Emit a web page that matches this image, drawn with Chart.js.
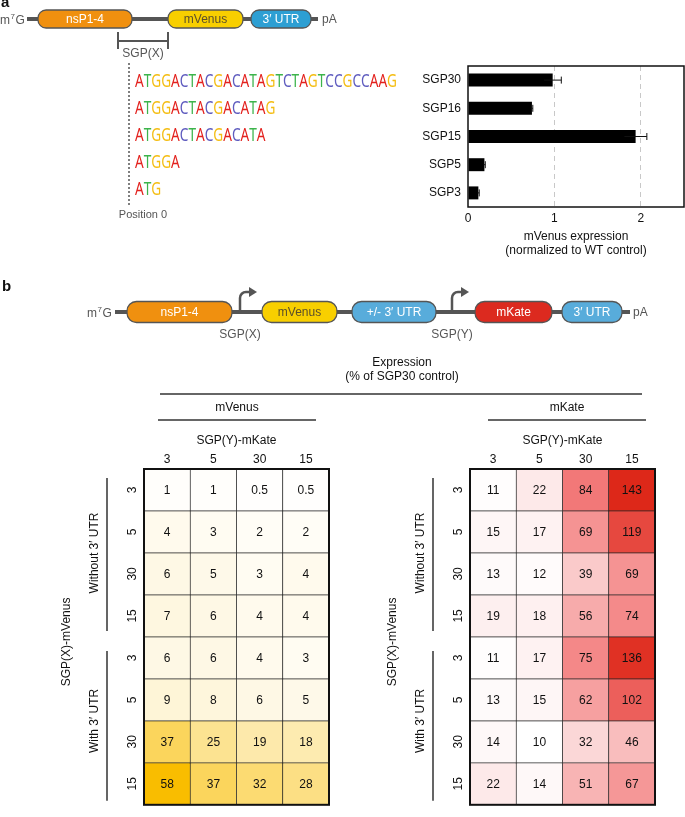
<!DOCTYPE html>
<html>
<head>
<meta charset="utf-8">
<script src="https://cdn.jsdelivr.net/npm/chart.js@4.4.1/dist/chart.umd.min.js"></script>
<style>
  html, body { margin: 0; padding: 0; background: #fff; }
  #page { position: relative; width: 685px; height: 817px; overflow: hidden; }
  #page canvas { position: absolute; left: 0; top: 0; }
</style>
</head>
<body>
<div id="page">
  <canvas id="barChart" width="685" height="817"></canvas>
  <canvas id="venusMap" width="685" height="817"></canvas>
  <canvas id="kateMap" width="685" height="817"></canvas>
</div>
<script>
const FONT = '"Liberation Sans", Arial, Helvetica, sans-serif';
Chart.defaults.font.family = FONT;
Chart.defaults.font.size = 12;
Chart.defaults.color = '#111';

// panel a - bar chart
const SGP_LABELS = ['SGP30', 'SGP16', 'SGP15', 'SGP5', 'SGP3'];
const MVENUS_EXPR = [0.98, 0.74, 1.94, 0.19, 0.12];
const MVENUS_ERR = [0.10, 0.01, 0.13, 0.01, 0.01];
const X_TICKS = [0, 1, 2];

// panel a - sequences
const SEQUENCES = [
  'ATGGACTACGACATAGTCTAGTCCGCCAAG',
  'ATGGACTACGACATAG',
  'ATGGACTACGACATA',
  'ATGGA',
  'ATG'
];
const BASE_COLORS = { A: '#e3221e', T: '#3cb44b', G: '#f4bd12', C: '#5f5cbf' };

// panel b - heatmaps
const COL_LABELS = ['3', '5', '30', '15'];
const ROW_LABELS = ['3', '5', '30', '15', '3', '5', '30', '15'];
const GROUP_LABELS = ['Without 3\u2032 UTR', 'With 3\u2032 UTR'];
const MVENUS_CELLS = [
  [1, 1, 0.5, 0.5],
  [4, 3, 2, 2],
  [6, 5, 3, 4],
  [7, 6, 4, 4],
  [6, 6, 4, 3],
  [9, 8, 6, 5],
  [37, 25, 19, 18],
  [58, 37, 32, 28]
];
const MKATE_CELLS = [
  [11, 22, 84, 143],
  [15, 17, 69, 119],
  [13, 12, 39, 69],
  [19, 18, 56, 74],
  [11, 17, 75, 136],
  [13, 15, 62, 102],
  [14, 10, 32, 46],
  [22, 14, 51, 67]
];

// colour ramps
const VENUS_RAMP = [[0, [255, 255, 255]], [58, [249, 189, 0]]];
const KATE_RAMP = [[10, [255, 255, 255]], [85, [242, 118, 118]], [143, [221, 40, 25]]];

function rampColor(stops, v) {
  const rgb = c => `rgb(${c.map(Math.round).join(',')})`;
  if (v <= stops[0][0]) return rgb(stops[0][1]);
  for (let i = 1; i < stops.length; i++) {
    if (v <= stops[i][0]) {
      const t = (v - stops[i - 1][0]) / (stops[i][0] - stops[i - 1][0]);
      return rgb(stops[i - 1][1].map((c, k) => c + (stops[i][1][k] - c) * t));
    }
  }
  return rgb(stops[stops.length - 1][1]);
}

// drawing helpers
function pill(ctx, x1, x2, yc, h, fill, label, textColor) {
  const r = h * 0.45, y = yc - h / 2, w = x2 - x1;
  ctx.beginPath();
  ctx.moveTo(x1 + r, y);
  ctx.arcTo(x2, y, x2, y + h, r);
  ctx.arcTo(x2, y + h, x1, y + h, r);
  ctx.arcTo(x1, y + h, x1, y, r);
  ctx.arcTo(x1, y, x2, y, r);
  ctx.closePath();
  ctx.fillStyle = fill;
  ctx.fill();
  ctx.lineWidth = 1.3;
  ctx.strokeStyle = '#555';
  ctx.stroke();
  ctx.fillStyle = textColor;
  ctx.font = '12px ' + FONT;
  ctx.textAlign = 'center';
  ctx.textBaseline = 'middle';
  ctx.fillText(label, x1 + w / 2, yc + 0.5);
}

function capG(ctx, x, yc) {
  // "m7G" with superscript
  ctx.fillStyle = '#555';
  ctx.textAlign = 'left';
  ctx.textBaseline = 'alphabetic';
  ctx.font = '12px ' + FONT;
  ctx.fillText('m', x, yc + 4.5);
  const wm = ctx.measureText('m').width;
  ctx.font = '8px ' + FONT;
  ctx.fillText('7', x + wm + 0.5, yc);
  const w7 = ctx.measureText('7').width;
  ctx.font = '12px ' + FONT;
  ctx.fillText('G', x + wm + w7 + 1, yc + 4.5);
}

function promoter(ctx, x, yLine, yTop) {
  const r = 6;
  ctx.save();
  ctx.strokeStyle = '#555';
  ctx.fillStyle = '#555';
  ctx.lineWidth = 2.5;
  ctx.beginPath();
  ctx.moveTo(x, yLine);
  ctx.lineTo(x, yTop + r);
  ctx.arcTo(x, yTop, x + r, yTop, r);
  ctx.lineTo(x + 10, yTop);
  ctx.stroke();
  ctx.beginPath();
  ctx.moveTo(x + 17, yTop);
  ctx.lineTo(x + 9, yTop - 5);
  ctx.lineTo(x + 9, yTop + 5);
  ctx.closePath();
  ctx.fill();
  ctx.restore();
}

function vText(ctx, text, x, y) {
  ctx.save();
  ctx.translate(x, y);
  ctx.rotate(-Math.PI / 2);
  ctx.textAlign = 'center';
  ctx.textBaseline = 'middle';
  ctx.fillText(text, 0, 0);
  ctx.restore();
}

function hLine(ctx, x1, x2, y, w) {
  ctx.beginPath();
  ctx.moveTo(x1, y);
  ctx.lineTo(x2, y);
  ctx.lineWidth = w || 1.5;
  ctx.strokeStyle = '#333';
  ctx.stroke();
}

// panel a: construct, sequences
const constructA = {
  id: 'constructA',
  afterDraw(chart) {
    const ctx = chart.ctx;
    ctx.save();
    ctx.fillStyle = '#111';
    ctx.font = 'bold 15px ' + FONT;
    ctx.textAlign = 'left';
    ctx.textBaseline = 'alphabetic';
    ctx.fillText('a', 1, 7);

    const yc = 19;
    ctx.strokeStyle = '#555';
    ctx.lineWidth = 4;
    ctx.beginPath(); ctx.moveTo(27, yc); ctx.lineTo(318, yc); ctx.stroke();
    capG(ctx, 0, yc);
    ctx.fillStyle = '#555';
    ctx.font = '12px ' + FONT;
    ctx.textAlign = 'left';
    ctx.textBaseline = 'middle';
    ctx.fillText('pA', 322, yc + 1);
    pill(ctx, 38, 132, yc, 18, '#f0900f', 'nsP1-4', '#fff');
    pill(ctx, 168, 243, yc, 18, '#f8cf00', 'mVenus', '#5b4f2a');
    pill(ctx, 251, 311, yc, 18, '#2d9fd3', '3\u2032 UTR', '#fff');

    // SGP(X) bracket
    ctx.strokeStyle = '#555';
    ctx.lineWidth = 2;
    ctx.beginPath();
    ctx.moveTo(118, 32); ctx.lineTo(118, 49);
    ctx.moveTo(168, 32); ctx.lineTo(168, 49);
    ctx.moveTo(118, 41); ctx.lineTo(168, 41);
    ctx.stroke();
    ctx.fillStyle = '#555';
    ctx.font = '12px ' + FONT;
    ctx.textAlign = 'center';
    ctx.fillText('SGP(X)', 143, 54);

    // position 0 dotted line
    ctx.setLineDash([2, 2]);
    ctx.lineWidth = 1.5;
    ctx.beginPath(); ctx.moveTo(129, 63); ctx.lineTo(129, 205); ctx.stroke();
    ctx.setLineDash([]);
    ctx.font = '11px ' + FONT;
    ctx.fillText('Position 0', 143, 215);

    // sequences, condensed to fit the longest row
    ctx.font = '18px "Noto Sans", sans-serif';
    const fullW = [...SEQUENCES[0]].reduce((s, ch) => s + ctx.measureText(ch).width, 0);
    const sx = 262 / fullW;
    SEQUENCES.forEach((seq, r) => {
      let x = 135;
      const base = 86.5 + r * 27;
      [...seq].forEach(ch => {
        const w = ctx.measureText(ch).width * sx;
        ctx.save();
        ctx.translate(x, base);
        ctx.scale(sx, 1);
        ctx.fillStyle = BASE_COLORS[ch];
        ctx.textAlign = 'left';
        ctx.textBaseline = 'alphabetic';
        ctx.fillText(ch, 0, 0);
        ctx.restore();
        x += w;
      });
    });
    ctx.restore();
  }
};

const plotFrame = {
  id: 'plotFrame',
  afterDatasetsDraw(chart, args, opts) {
    const { ctx, chartArea: a } = chart;
    ctx.save();
    ctx.lineWidth = opts.width || 1.5;
    ctx.strokeStyle = '#111';
    ctx.strokeRect(a.left, a.top, a.right - a.left, a.bottom - a.top);
    ctx.restore();
  }
};

const errorBars = {
  id: 'errorBars',
  afterDatasetsDraw(chart) {
    const ctx = chart.ctx;
    const xs = chart.scales.x;
    const meta = chart.getDatasetMeta(0);
    ctx.save();
    ctx.strokeStyle = '#111';
    ctx.lineWidth = 1;
    meta.data.forEach((bar, i) => {
      const x1 = xs.getPixelForValue(MVENUS_EXPR[i] - MVENUS_ERR[i]);
      const x2 = xs.getPixelForValue(MVENUS_EXPR[i] + MVENUS_ERR[i]);
      ctx.beginPath();
      ctx.moveTo(x1, bar.y); ctx.lineTo(x2, bar.y);
      ctx.moveTo(x2, bar.y - 3.5); ctx.lineTo(x2, bar.y + 3.5);
      ctx.stroke();
    });
    ctx.restore();
  }
};

new Chart(document.getElementById('barChart'), {
  type: 'bar',
  data: {
    labels: SGP_LABELS,
    datasets: [{
      data: MVENUS_EXPR,
      backgroundColor: '#000',
      barPercentage: 0.46,
      categoryPercentage: 1
    }]
  },
  options: {
    indexAxis: 'y',
    responsive: false,
    animation: false,
    layout: { padding: { left: 400, right: 1, top: 66, bottom: 557 } },
    plugins: {
      legend: { display: false },
      tooltip: { enabled: false },
      plotFrame: { width: 1.5 }
    },
    scales: {
      x: {
        min: 0,
        max: 2.5,
        afterBuildTicks: s => { s.ticks = X_TICKS.map(v => ({ value: v })); },
        ticks: { padding: 4, color: '#111' },
        grid: {
          color: c => (c.tick && c.tick.value === 0) ? 'rgba(0,0,0,0)' : '#c8c8c8',
          drawTicks: false,
          lineWidth: 1
        },
        border: { display: false, dash: [5, 4] },
        title: {
          display: true,
          text: ['mVenus expression', '(normalized to WT control)'],
          color: '#111',
          padding: { top: 4, bottom: 2 }
        },
        afterFit: s => { s.height = 53; }
      },
      y: {
        grid: { display: false, drawTicks: false },
        border: { display: false },
        ticks: { padding: 7, color: '#111' },
        afterFit: s => { s.width = 68; }
      }
    }
  },
  plugins: [plotFrame, errorBars, constructA]
});

// panel b
const cellText = {
  id: 'cellText',
  afterDatasetsDraw(chart) {
    const ctx = chart.ctx;
    ctx.save();
    ctx.font = '12px ' + FONT;
    ctx.fillStyle = '#111';
    ctx.textAlign = 'center';
    ctx.textBaseline = 'middle';
    chart.data.datasets.forEach((ds, i) => {
      chart.getDatasetMeta(i).data.forEach((el, j) => {
        const p = el.getCenterPoint();
        ctx.fillText(String(ds.cellValues[j]), p.x, p.y + 1);
      });
    });
    ctx.restore();
  }
};

const heatHeader = {
  id: 'heatHeader',
  afterDraw(chart, args, opts) {
    const { ctx, chartArea: a } = chart;
    const ys = chart.scales.y;
    const mid = (a.left + a.right) / 2;
    ctx.save();
    ctx.fillStyle = '#111';
    ctx.font = '12px ' + FONT;
    ctx.textAlign = 'center';
    ctx.textBaseline = 'middle';
    ctx.fillText(opts.title, opts.titleCenter, a.top - 61);
    hLine(ctx, opts.titleCenter - 79, opts.titleCenter + 79, a.top - 49);
    ctx.fillText('SGP(Y)-mKate', mid, a.top - 28);

    // row group brackets
    const y0 = ys.getPixelForValue(0), y4 = ys.getPixelForValue(4), y8 = ys.getPixelForValue(8);
    const bx = a.left - 37;
    ctx.strokeStyle = '#333';
    ctx.lineWidth = 1.5;
    ctx.beginPath();
    ctx.moveTo(bx, y0 + 9); ctx.lineTo(bx, y4 - 6);
    ctx.moveTo(bx, y4 + 14); ctx.lineTo(bx, y8 - 4);
    ctx.stroke();
    vText(ctx, GROUP_LABELS[0], bx - 12, (y0 + y4) / 2);
    vText(ctx, GROUP_LABELS[1], bx - 12, (y4 + y8) / 2);
    vText(ctx, 'SGP(X)-mVenus', a.left - 77, (y0 + y8) / 2 + 5);
    ctx.restore();
  }
};

const constructB = {
  id: 'constructB',
  afterDraw(chart) {
    const ctx = chart.ctx;
    ctx.save();
    ctx.fillStyle = '#111';
    ctx.font = 'bold 15px ' + FONT;
    ctx.textAlign = 'left';
    ctx.textBaseline = 'alphabetic';
    ctx.fillText('b', 2, 291);

    const yc = 312;
    ctx.strokeStyle = '#555';
    ctx.lineWidth = 4;
    ctx.beginPath(); ctx.moveTo(115, yc); ctx.lineTo(630, yc); ctx.stroke();
    capG(ctx, 87, yc);
    ctx.fillStyle = '#555';
    ctx.font = '12px ' + FONT;
    ctx.textAlign = 'left';
    ctx.textBaseline = 'middle';
    ctx.fillText('pA', 633, yc + 1);
    promoter(ctx, 240, yc, 292);
    promoter(ctx, 452, yc, 292);
    pill(ctx, 127, 232, yc, 21, '#f0900f', 'nsP1-4', '#fff');
    pill(ctx, 262, 337, yc, 21, '#f8cf00', 'mVenus', '#5b4f2a');
    pill(ctx, 352, 436, yc, 21, '#58acdb', '+/- 3\u2032 UTR', '#fff');
    pill(ctx, 475, 552, yc, 21, '#dc2a1f', 'mKate', '#fff');
    pill(ctx, 562, 622, yc, 21, '#58acdb', '3\u2032 UTR', '#fff');
    ctx.fillStyle = '#555';
    ctx.font = '12px ' + FONT;
    ctx.textAlign = 'center';
    ctx.textBaseline = 'middle';
    ctx.fillText('SGP(X)', 240, 335);
    ctx.fillText('SGP(Y)', 452, 335);

    ctx.fillStyle = '#111';
    ctx.fillText('Expression', 402, 363);
    ctx.fillText('(% of SGP30 control)', 402, 377);
    hLine(ctx, 160, 642, 394);
    ctx.restore();
  }
};

function makeHeatmap(id, cells, ramp, padLeft, padRight, title, titleCenter, extra) {
  return new Chart(document.getElementById(id), {
    type: 'bar',
    data: {
      labels: COL_LABELS,
      datasets: cells.map(row => ({
        data: row.map(() => 1),
        cellValues: row,
        backgroundColor: row.map(v => rampColor(ramp, v)),
        borderColor: '#222',
        borderWidth: 0.7,
        borderSkipped: false,
        barPercentage: 1,
        categoryPercentage: 1
      }))
    },
    options: {
      responsive: false,
      animation: false,
      layout: { padding: { left: padLeft, right: padRight, top: 449, bottom: 1 } },
      plugins: {
        legend: { display: false },
        tooltip: { enabled: false },
        plotFrame: { width: 2 },
        heatHeader: { title, titleCenter }
      },
      scales: {
        x: {
          stacked: true,
          position: 'top',
          offset: true,
          grid: { display: false, drawTicks: false },
          border: { display: false },
          ticks: { padding: 2, color: '#111' },
          afterFit: s => { s.height = 20; }
        },
        y: { stacked: true, min: 0, max: 8, reverse: true, display: false },
        rows: {
          type: 'category',
          labels: ROW_LABELS,
          position: 'left',
          offset: true,
          grid: { display: false, drawTicks: false },
          border: { display: false },
          ticks: { autoSkip: false, minRotation: 90, maxRotation: 90, crossAlign: 'center', padding: 5, color: '#111' },
          afterFit: s => { s.width = 20; }
        }
      }
    },
    plugins: [cellText, plotFrame, heatHeader].concat(extra || [])
  });
}

makeHeatmap('venusMap', MVENUS_CELLS, VENUS_RAMP, 124, 356, 'mVenus', 237, [constructB]);
makeHeatmap('kateMap', MKATE_CELLS, KATE_RAMP, 450, 30, 'mKate', 567);
</script>
</body>
</html>
